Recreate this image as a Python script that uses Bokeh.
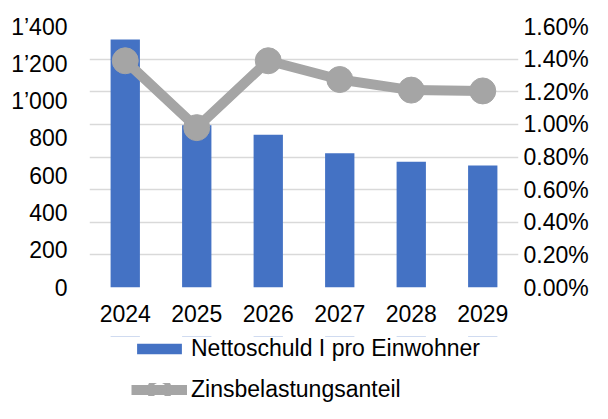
from bokeh.plotting import figure
from bokeh.layouts import column
from bokeh.models import (Range1d, LinearAxis, FixedTicker, PrintfTickFormatter,
                          Legend, LegendItem, FactorRange)
from bokeh.embed import file_html
from bokeh.resources import INLINE

years = ["2024", "2025", "2026", "2027", "2028", "2029"]
nettoschuld = [1330, 870, 820, 720, 675, 655]
zins_pct = [1.39, 0.98, 1.39, 1.275, 1.21, 1.205]
left_ticks = [0, 200, 400, 600, 800, 1000, 1200, 1400]
left_labels = ["0", "200", "400", "600", "800", "1’000", "1’200", "1’400"]
right_ticks = [0.0, 0.2, 0.4, 0.6, 0.8, 1.0, 1.2, 1.4, 1.6]
series_names = ["Nettoschuld I pro Einwohner", "Zinsbelastungsanteil"]

FONT = "Liberation Sans"
FS = "23px"
BLUE = "#4472C4"
GRAY = "#A5A5A5"

p = figure(width=592, height=336, output_backend="svg", toolbar_location=None,
           x_range=FactorRange(*years, range_padding=0),
           y_range=Range1d(0, 1400),
           min_border_left=89, min_border_right=74,
           min_border_top=26, min_border_bottom=49)
p.outline_line_color = None
p.background_fill_color = "white"
p.border_fill_color = "white"

p.extra_y_ranges = {"right": Range1d(0, 1.6)}

# gridlines follow the right axis ticks
p.xgrid.visible = False
p.ygrid.ticker = FixedTicker(ticks=[t * 1400 / 1.6 for t in right_ticks])
p.ygrid.grid_line_color = "#D9D9D9"
p.ygrid.grid_line_width = 1.3

bar_style = dict(fill_color=BLUE, line_color=None)
line_style = dict(line_color=GRAY, line_width=10)
mark_style = dict(size=26, fill_color=GRAY, line_color=GRAY)

p.vbar(x=years, top=nettoschuld, width=0.41, **bar_style)
p.line(x=years, y=zins_pct, y_range_name="right", **line_style)
p.scatter(x=years, y=zins_pct, y_range_name="right", **mark_style)

# left axis
ya = p.yaxis[0]
ya.ticker = FixedTicker(ticks=left_ticks)
ya.major_label_overrides = {t: l for t, l in zip(left_ticks, left_labels)}
ya.major_label_standoff = 22

ra = LinearAxis(y_range_name="right", ticker=FixedTicker(ticks=right_ticks),
                formatter=PrintfTickFormatter(format="%.2f%%"))
ra.major_label_standoff = 5
p.add_layout(ra, "right")

for ax in [p.xaxis[0], ya, ra]:
    ax.axis_line_color = None
    ax.major_tick_line_color = None
    ax.minor_tick_line_color = None
    ax.major_tick_in = 0
    ax.major_tick_out = 0
    ax.major_label_text_font = FONT
    ax.major_label_text_font_size = FS
    ax.major_label_text_color = "#000000"
p.xaxis[0].major_label_standoff = 17

# legend strip underneath (same series, drawn outside its visible range so only the legend shows)
lg = figure(width=592, height=67, output_backend="svg", toolbar_location=None,
            x_range=FactorRange(*years, range_padding=0), y_range=Range1d(-2, -1),
            min_border_left=89, min_border_right=74,
            min_border_top=0, min_border_bottom=0)
lg.outline_line_color = None
lg.axis.visible = False
lg.grid.visible = False
lb = lg.vbar(x=years, top=nettoschuld, width=0.41, **bar_style)
ll = lg.line(x=years, y=zins_pct, **line_style)
ls = lg.scatter(x=years, y=zins_pct, size=26, fill_color=GRAY, line_color=GRAY,
                line_width=20)

legend = Legend(items=[LegendItem(label=series_names[0], renderers=[lb]),
                       LegendItem(label=series_names[1], renderers=[ll, ls])],
                location=(42, 0), orientation="vertical",
                label_text_font=FONT, label_text_font_size=FS, label_text_color="#000000",
                glyph_width=56, glyph_height=13, label_height=24, spacing=14,
                label_standoff=4, padding=0, margin=0,
                border_line_color=None, background_fill_alpha=0)
lg.add_layout(legend, "center")

open("out.html", "w").write(file_html(column(p, lg, spacing=0), INLINE))
